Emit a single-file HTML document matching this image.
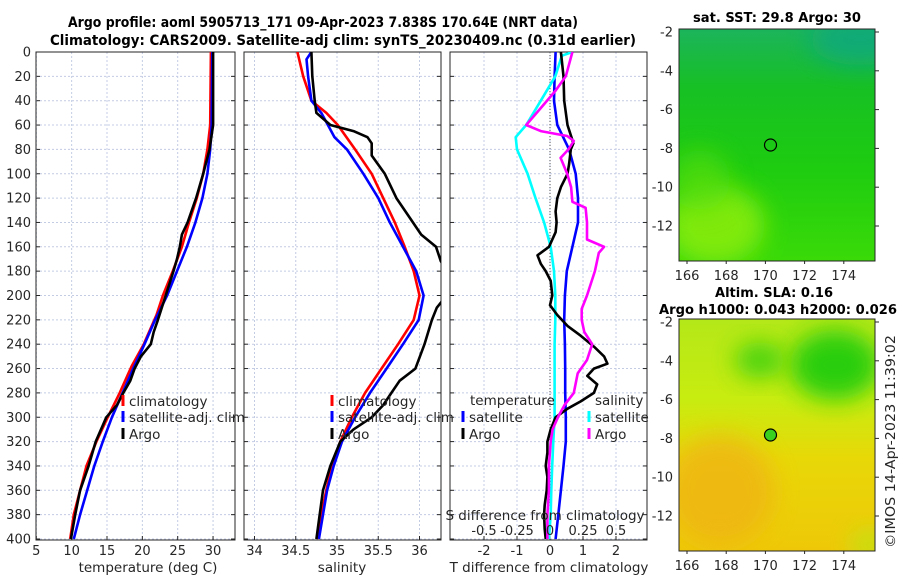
<!DOCTYPE html>
<html><head><meta charset="utf-8"><style>
body{margin:0;background:#fff;}
svg text{font-family:"DejaVu Sans","Liberation Sans",sans-serif;fill:#262626;}
</style></head><body>
<svg id="chart" width="900" height="580" viewBox="0 0 900 580" xmlns="http://www.w3.org/2000/svg">
<defs>
<clipPath id="c1"><rect x="36" y="52" width="199" height="488"/></clipPath>
<clipPath id="c2"><rect x="244" y="52" width="197" height="488"/></clipPath>
<clipPath id="c3"><rect x="450" y="52" width="197" height="488"/></clipPath>
<clipPath id="m1"><rect x="679" y="29" width="196" height="232"/></clipPath>
<clipPath id="m2"><rect x="679" y="319" width="196" height="232"/></clipPath>
<filter id="bl" x="-50%" y="-50%" width="200%" height="200%"><feGaussianBlur stdDeviation="12"/></filter>
<linearGradient id="g1" x1="0" y1="0" x2="0" y2="1">
<stop offset="0" stop-color="#1cb45c"/><stop offset="0.25" stop-color="#17c024"/><stop offset="0.6" stop-color="#1ecc10"/><stop offset="1" stop-color="#3ada08"/></linearGradient>
<linearGradient id="g2" x1="0" y1="0" x2="0" y2="1">
<stop offset="0" stop-color="#b4e818"/><stop offset="0.35" stop-color="#c8ec10"/><stop offset="0.6" stop-color="#e8d808"/><stop offset="1" stop-color="#eec808"/></linearGradient>
</defs>
<text x="68" y="27" textLength="510" lengthAdjust="spacingAndGlyphs" font-size="14" font-weight="bold" style="fill:#000">Argo profile: aoml 5905713_171 09-Apr-2023 7.838S 170.64E (NRT data)</text>
<text x="50" y="45" textLength="586" lengthAdjust="spacingAndGlyphs" font-size="14" font-weight="bold" style="fill:#000">Climatology: CARS2009. Satellite-adj clim: synTS_20230409.nc (0.31d earlier)</text>
<g id="p1"></g>
<g id="p2"></g>
<g id="p3"></g>
<g id="maps">
<g clip-path="url(#m1)">
<rect x="679" y="29" width="196" height="232" fill="url(#g1)"/>
<ellipse cx="860" cy="40" rx="50" ry="25" fill="#10a880" filter="url(#bl)" opacity="0.8"/>
<ellipse cx="715" cy="225" rx="50" ry="40" fill="#88ec10" filter="url(#bl)" opacity="0.9"/>
<ellipse cx="700" cy="180" rx="30" ry="30" fill="#55dd10" filter="url(#bl)" opacity="0.7"/>
</g>
<rect x="679" y="29" width="196" height="232" fill="none" stroke="#262626" stroke-width="1"/>
<circle cx="770.5" cy="145" r="6" fill="none" stroke="#000" stroke-width="1.2"/>
<g clip-path="url(#m2)">
<rect x="679" y="319" width="196" height="232" fill="url(#g2)"/>
<ellipse cx="835" cy="365" rx="45" ry="35" fill="#22cc10" filter="url(#bl)" opacity="0.95"/>
<ellipse cx="760" cy="360" rx="25" ry="18" fill="#3ad010" filter="url(#bl)" opacity="0.9"/>
<ellipse cx="720" cy="490" rx="55" ry="55" fill="#f0b018" filter="url(#bl)" opacity="0.7"/>
<ellipse cx="870" cy="545" rx="20" ry="15" fill="#b8e818" filter="url(#bl)" opacity="0.8"/>
</g>
<rect x="679" y="319" width="196" height="232" fill="none" stroke="#262626" stroke-width="1"/>
<circle cx="770.5" cy="435" r="6" fill="#3ad020" stroke="#000" stroke-width="1.2"/>
<text x="693" y="22" textLength="168" lengthAdjust="spacingAndGlyphs" font-size="13" font-weight="bold" style="fill:#000">sat. SST: 29.8 Argo: 30</text>
<text x="715" y="297" textLength="118" lengthAdjust="spacingAndGlyphs" font-size="13" font-weight="bold" style="fill:#000">Altim. SLA: 0.16</text>
<text x="659" y="314" textLength="238" lengthAdjust="spacingAndGlyphs" font-size="13" font-weight="bold" style="fill:#000">Argo h1000: 0.043 h2000: 0.026</text>
<text transform="translate(895,548) rotate(-90)" textLength="213" lengthAdjust="spacingAndGlyphs" font-size="13">©IMOS 14-Apr-2023 11:39:02</text>
</g>
</svg>
<script>
const depthTicks = [0,20,40,60,80,100,120,140,160,180,200,220,240,260,280,300,320,340,360,380,400];
const tempTicks = [5,10,15,20,25,30];
const salTicks = [34,34.5,35,35.5,36];
const salTickLabels = ['34','34.5','35','35.5','36'];
const tdiffTicks = [-2,-1,0,1,2];
const sdiffTicks = [-0.5,-0.25,0,0.25,0.5];
const sdiffTickLabels = ['-0.5','-0.25','0','0.25','0.5'];
const mapLonTicks = [166,168,170,172,174];
const mapLatTicks = [-2,-4,-6,-8,-10,-12];

const tClimDepth = [0,60,80,100,120,140,160,180,200,216,240,258,280,300,320,340,360,380,400];
const tClim = [29.7,29.6,29.2,28.6,27.7,26.6,25.6,24.3,22.9,22.0,20.2,18.5,16.8,15.1,13.5,12.1,11.2,10.3,9.8];
const tSatDepth = [0,60,80,100,120,140,160,180,200,220,240,260,280,300,320,340,360,380,400];
const tSat = [29.9,29.8,29.6,29.2,28.5,27.5,26.3,24.9,23.5,21.8,20.3,18.7,17.2,15.7,14.4,13.2,12.2,11.2,10.3];
const tArgoDepth = [0,60,80,100,120,140,150,160,170,180,200,220,230,240,250,260,270,280,290,300,320,340,360,380,400];
const tArgo = [30.0,30.0,29.5,28.6,27.6,26.4,25.6,25.3,24.9,24.4,23.3,22.2,21.6,21.2,19.8,18.9,18.3,17.3,16.4,14.9,13.4,12.4,11.2,10.5,9.9];

const sClimDepth = [0,20,40,50,60,80,100,120,140,160,180,200,220,240,260,280,300,320,340,360,380,400];
const sClim = [34.52,34.59,34.69,34.87,35.01,35.22,35.42,35.56,35.70,35.82,35.93,36.0,35.93,35.74,35.54,35.34,35.18,35.04,34.94,34.87,34.81,34.76];
const sSatDepth = [0,6,20,40,50,60,70,80,100,120,140,160,180,200,220,240,260,280,300,320,340,360,380,400];
const sSat = [34.69,34.63,34.65,34.69,34.81,34.89,34.97,35.12,35.32,35.5,35.64,35.8,35.96,36.05,35.99,35.80,35.6,35.4,35.22,35.06,34.96,34.88,34.83,34.78];
const sArgoDepth = [0,20,40,50,60,65,70,75,85,100,120,140,150,160,172,185,195,204,210,220,240,260,270,280,290,300,310,320,340,360,380,400];
const sArgo = [34.69,34.70,34.73,34.75,34.92,35.2,35.37,35.42,35.42,35.58,35.72,35.92,36.02,36.2,36.26,36.4,36.4,36.28,36.21,36.15,36.06,35.95,35.76,35.66,35.56,35.42,35.2,35.04,34.92,34.83,34.79,34.75];

const dTSatDepth = [0,20,40,60,80,100,120,140,160,180,200,220,240,260,280,300,320,340,360,380,400];
const dTSat = [0.17,0.14,0.12,0.22,0.58,0.78,0.85,0.85,0.68,0.51,0.45,0.43,0.45,0.46,0.46,0.48,0.48,0.41,0.33,0.25,0.17];
const dSSatDepth = [0,3,20,40,60,70,80,100,120,140,160,180,200,220,240,260,280,300,320,340,360,380,400];
const dSSat = [0.17,0.09,0.04,-0.07,-0.18,-0.26,-0.25,-0.17,-0.11,-0.045,0.005,0.03,0.04,0.04,0.035,0.035,0.035,0.035,0.025,0.017,0.01,0.005,-0.008];
const dTArgoDepth = [0,20,40,60,75,80,92,100,111,120,131,140,148,160,167,174,180,188,200,208,216,225,233,242,250,256,260,266,273,280,287,293,300,310,320,329,340,349,360,372,380,392,400];
const dTArgo = [0.33,0.41,0.43,0.53,0.71,0.63,0.58,0.53,0.33,0.22,0.17,0.2,0.17,-0.03,-0.38,-0.28,-0.13,0.02,0.07,0,0.22,0.53,0.93,1.33,1.64,1.74,1.33,1.13,1.43,1.33,0.93,0.53,0.17,0.02,-0.08,-0.08,-0.13,-0.08,-0.1,-0.16,-0.18,-0.16,-0.13];
const dSArgoDepth = [0,20,32,46,60,65,69,73,80,87,100,111,123,128,140,154,160,165,180,200,211,220,230,240,253,264,280,290,300,310,320,340,360,380,400];
const dSArgo = [0.17,0.12,0.04,-0.07,-0.18,-0.07,0.13,0.18,0.14,0.08,0.13,0.16,0.17,0.27,0.28,0.28,0.41,0.37,0.34,0.28,0.24,0.24,0.26,0.32,0.28,0.21,0.18,0.11,0.06,0.02,0.005,-0.008,-0.008,-0.02,-0.02];

const NS='http://www.w3.org/2000/svg';
const yD = d => 52 + d*487/400;
const xT = v => 36.3 + (v-5)*7.07;
const xS = v => 337 + (v-35)*82.5;
const xDT = v => 550 + v*33;
const xDS = v => 550 + v*132;
const mapX = lon => 687 + (lon-166)*19.6;
const mapY1 = lat => 32 + (-2-lat)*19.4;
const mapY2 = lat => 322 + (-2-lat)*19.4;

function mk(tag, attrs, parent){const e=document.createElementNS(NS,tag);for(const k in attrs)e.setAttribute(k,attrs[k]);parent.appendChild(e);return e;}
function txt(parent,x,y,s,anchor,size){const e=mk('text',{x:x,y:y,'text-anchor':anchor,'font-size':size},parent);e.textContent=s;return e;}

function panel(g,x0,x1,xticks,xfn,xlabels,showY,xlabel,xlc){
  depthTicks.forEach(d=>{
    const l=mk('line',{x1:x0,x2:x1,y1:yD(d),y2:yD(d),stroke:'#c4cce4','stroke-width':1,'stroke-dasharray':'2,2'},g);
    
    
    mk('line',{x1:x0,x2:x0+4,y1:yD(d),y2:yD(d),stroke:'#262626'},g);
    mk('line',{x1:x1-4,x2:x1,y1:yD(d),y2:yD(d),stroke:'#262626'},g);
    if(showY){const t=txt(g,31,yD(d)+4.5,String(d),'end',13);
      
      }
  });
  xticks.forEach((v,i)=>{
    const x=xfn(v);
    const l=mk('line',{x1:x,x2:x,y1:52,y2:540,stroke:'#c4cce4','stroke-width':1,'stroke-dasharray':'2,2'},g);
    
    
    mk('line',{x1:x,x2:x,y1:540,y2:536,stroke:'#262626'},g);
    const t=txt(g,x,555,xlabels[i],'middle',13);
    
    
  });
  const f=mk('rect',{x:x0,y:52,width:x1-x0,height:488,fill:'none',stroke:'#262626','stroke-width':1},g);
  
  
  const xl=txt(g,xlc,572,xlabel,'middle',13.5);
  
  
}
function series(g,clip,depths,vals,xfn,color,name){
  const pts=depths.map((d,i)=>xfn(vals[i]).toFixed(1)+','+yD(d).toFixed(1)).join(' ');
  const p=mk('polyline',{points:pts,fill:'none',stroke:color,'stroke-width':2.6,'stroke-linejoin':'round','clip-path':'url(#'+clip+')'},g);
  
  
}
function legendEntry(g,x,y,color,label,name){
  const r=mk('rect',{x:x-1.5,y:y-11,width:3,height:11,fill:color},g);
  
  
  const t=txt(g,x+6,y,label,'start',13.5);
  
  
}

const p1=document.getElementById('p1');
panel(p1,36,235,tempTicks,xT,tempTicks.map(String),true,'temperature (deg C)',148);
series(p1,'c1',tClimDepth,tClim,xT,'#ff0000','temp-climatology-line');
series(p1,'c1',tSatDepth,tSat,xT,'#0000ff','temp-satellite-line');
series(p1,'c1',tArgoDepth,tArgo,xT,'#000000','temp-argo-line');
legendEntry(p1,123,406,'#ff0000','climatology','legend-climatology');
legendEntry(p1,123,422,'#0000ff','satellite-adj. clim','legend-satellite');
legendEntry(p1,123,439,'#000000','Argo','legend-argo');

const p2=document.getElementById('p2');
panel(p2,244,441,salTicks,xS,salTickLabels,false,'salinity',342);
series(p2,'c2',sClimDepth,sClim,xS,'#ff0000','sal-climatology-line');
series(p2,'c2',sSatDepth,sSat,xS,'#0000ff','sal-satellite-line');
series(p2,'c2',sArgoDepth,sArgo,xS,'#000000','sal-argo-line');
legendEntry(p2,332,406,'#ff0000','climatology','legend-climatology-2');
legendEntry(p2,332,422,'#0000ff','satellite-adj. clim','legend-satellite-2');
legendEntry(p2,332,439,'#000000','Argo','legend-argo-2');

const p3=document.getElementById('p3');
panel(p3,450,647,tdiffTicks,xDT,tdiffTicks.map(String),false,'T difference from climatology',549);
const zl=mk('line',{x1:550,x2:550,y1:52,y2:540,stroke:'#555','stroke-width':1,'stroke-dasharray':'1,2'},p3);


series(p3,'c3',dTSatDepth,dTSat,xDT,'#0000ff','tdiff-satellite-line');
series(p3,'c3',dSSatDepth,dSSat,xDS,'#00ffff','sdiff-satellite-line');
series(p3,'c3',dTArgoDepth,dTArgo,xDT,'#000000','tdiff-argo-line');
series(p3,'c3',dSArgoDepth,dSArgo,xDS,'#ff00ff','sdiff-argo-line');
const lt=txt(p3,470,405,'temperature','start',13.5);


const ls=txt(p3,595,405,'salinity','start',13.5);


legendEntry(p3,463,422,'#0000ff','satellite','legend-t-satellite');
legendEntry(p3,463,439,'#000000','Argo','legend-t-argo');
legendEntry(p3,589,422,'#00ffff','satellite','legend-s-satellite');
legendEntry(p3,589,439,'#ff00ff','Argo','legend-s-argo');
const st=txt(p3,545,520,'S difference from climatology','middle',13.5);


sdiffTicks.forEach((v,i)=>{
  const t=txt(p3,xDS(v),535,sdiffTickLabels[i],'middle',13);
  
  
});

const maps=document.getElementById('maps');
[[mapY1,261,275],[mapY2,551,565]].forEach(([fy,bottom,ly])=>{
  mapLatTicks.forEach(lat=>{
    const y=fy(lat);
    mk('line',{x1:875,x2:879,y1:y,y2:y,stroke:'#262626'},maps);
    const t=txt(maps,673,y+4.5,String(lat),'end',13);
    
    
  });
  mapLonTicks.forEach(lon=>{
    const x=mapX(lon);
    mk('line',{x1:x,x2:x,y1:bottom,y2:bottom+3,stroke:'#262626'},maps);
    const t=txt(maps,x,ly+5,String(lon),'middle',13);
    
    
  });
});
</script>
</body></html>
